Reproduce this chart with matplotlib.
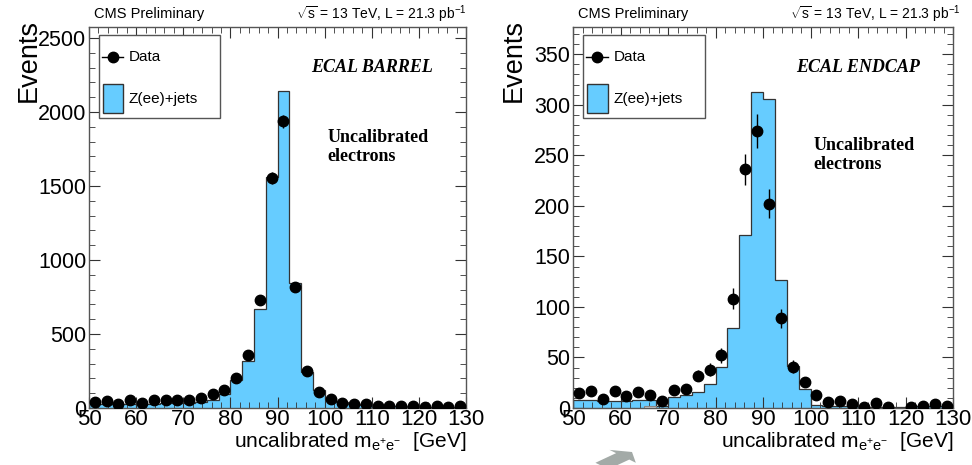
import matplotlib
matplotlib.use("Agg")
import matplotlib.pyplot as plt
import matplotlib.patches as mpatches
from matplotlib.lines import Line2D
from matplotlib.ticker import MultipleLocator
import numpy as np

plt.rcParams["font.family"] = ["Liberation Sans", "DejaVu Sans"]
plt.rcParams["mathtext.fontset"] = "custom"
plt.rcParams["mathtext.rm"] = "Liberation Sans"
plt.rcParams["mathtext.it"] = "Liberation Sans:italic"

# ---- data: 2.5 GeV bins from 50 to 130 ----
edges = np.arange(50, 130.01, 2.5)
centers = (edges[:-1] + edges[1:]) / 2

barrel_mc = [25, 27, 28, 28, 30, 30, 32, 33, 35, 38, 57, 95, 188, 316, 666, 1563,
             2144, 845, 240, 120, 62, 40, 28, 22, 17, 14, 12, 10, 9, 8, 7, 6]
barrel_data = [41, 47, 25, 52, 34, 56, 52, 56, 52, 70, 92, 124, 205, 359, 733, 1554,
               1939, 819, 250, 108, 63, 36, 25, 25, 11, 11, 11, 11, 7, 11, 7, 11]

endcap_mc = [8, 8, 7, 7, 7, 8, 8, 2, 11, 13, 16, 24, 41, 79, 171, 313,
             306, 127, 42, 19, 3, 2, 2, 1.5, 1, 1, 1, 0.5, 1.5, 2, 2, 2]
endcap_other = [0, 0, 0, 0, 0, 0, 2, 0, 0, 0, 0, 0, 0, 0, 0, 0,
                0, 0, 0, 0, 0, 0, 0, 0, 0, 0, 0, 0, 0, 0, 0, 0]
endcap_data = [15, 17, 9, 17, 12, 16, 12.5, 7, 17.5, 19, 32, 38, 52, 108, 236, 274,
               202, 89, 41, 26, 12.5, 5.6, 7, 3.6, 1, 5, 1, 0, 1, 2, 3.6, 2]

FILL = "#66CCFF"
W, H = 972, 465

fig = plt.figure(figsize=(W / 100, H / 100), dpi=100)


def panel(x0, x1, ymax, mc, data, other, major, minor, title, ylab_x):
    ax = fig.add_axes([x0 / W, (H - 408) / H, (x1 - x0) / W, 381 / H])
    ax.stairs(mc, edges, fill=True, facecolor=FILL, edgecolor="none", zorder=1)
    ax.stairs(mc, edges, color="#333333", lw=0.9, zorder=2)
    if other is not None:
        ax.stairs(other, edges, fill=True, facecolor="#cccccc", edgecolor="#888888", lw=0.8, zorder=2)
    d = np.array(data, dtype=float)
    m = d > 0
    ax.errorbar(centers[m], d[m], yerr=np.sqrt(d[m]), fmt="o", color="black",
                ms=7.5, elinewidth=1.0, capsize=0, zorder=4)
    ax.set_xlim(50, 130)
    ax.set_ylim(0, ymax)
    ax.xaxis.set_major_locator(MultipleLocator(10))
    ax.xaxis.set_minor_locator(MultipleLocator(2))
    ax.yaxis.set_major_locator(MultipleLocator(major))
    ax.yaxis.set_minor_locator(MultipleLocator(minor))
    ax.tick_params(which="both", direction="in", top=True, right=True,
                   color="#333333", pad=2)
    ax.tick_params(axis="y", labelsize=15.5)
    ax.tick_params(axis="x", labelsize=16, pad=1)
    ax.tick_params(which="major", length=8)
    ax.tick_params(which="minor", length=4.5)
    for s in ax.spines.values():
        s.set_color("#555555")
        s.set_linewidth(1.0)

    # legend box (ROOT style)
    ax.add_patch(mpatches.Rectangle((0.027, 0.76), 0.32, 0.22, transform=ax.transAxes,
                                    facecolor="white", edgecolor="#555555", lw=1.0, zorder=5))
    ax.add_line(Line2D([0.034, 0.091], [0.921, 0.921], transform=ax.transAxes,
                       color="black", lw=1.0, zorder=6))
    ax.plot([0.0625], [0.921], "o", color="black", ms=7.5, transform=ax.transAxes, zorder=7)
    ax.text(0.106, 0.921, "Data", transform=ax.transAxes, va="center", fontsize=11, zorder=7)
    ax.add_patch(mpatches.Rectangle((0.036, 0.773), 0.055, 0.077, transform=ax.transAxes,
                                    facecolor=FILL, edgecolor="#333333", lw=1.0, zorder=6))
    ax.text(0.106, 0.812, "Z(ee)+jets", transform=ax.transAxes, va="center", fontsize=11, zorder=7)

    ax.text(0.75, 0.895, title, transform=ax.transAxes, ha="center", va="center",
            family="Liberation Serif", fontweight="bold", style="italic", fontsize=13)
    ax.set_xlabel(r"uncalibrated m$_{\mathrm{e^{+}e^{-}}}$  [GeV]", fontsize=15,
                  loc="right", labelpad=0)
    ax.set_ylabel("Events", fontsize=19.5, loc="top", labelpad=0)
    ax.yaxis.set_label_coords(ylab_x, 1.02)
    return ax


axl = panel(89, 466, 2575, barrel_mc, barrel_data, None, 500, 100, "ECAL BARREL", -0.125)
axr = panel(573, 953, 377, endcap_mc, endcap_data, endcap_other, 50, 10, "ECAL ENDCAP", -0.121)

for ax, yy in [(axl, (0.709, 0.659)), (axr, (0.690, 0.638))]:
    ax.text(0.633, yy[0], "Uncalibrated", transform=ax.transAxes, va="center",
            family="Liberation Serif", fontweight="bold", fontsize=13)
    ax.text(0.633, yy[1], "electrons", transform=ax.transAxes, va="center",
            family="Liberation Serif", fontweight="bold", fontsize=13)

# header texts
for xl, xr in [(94, 467), (578, 961)]:
    fig.text(xl / W, 1 - 14 / H, "CMS Preliminary", fontsize=10.5, va="center")
    fig.text(xr / W, 1 - 14 / H, r"$\sqrt{\mathrm{s}}$ = 13 TeV, L = 21.3 pb$^{-1}$",
             fontsize=10, va="center", ha="right")

# grey cursor arrow at the bottom of the screenshot
fig.patches.append(mpatches.FancyArrow(602 / W, 1 - 466 / H, 30 / W, 14 / H, width=9 / H,
                                       head_width=18 / H, head_length=13 / W,
                                       length_includes_head=True, transform=fig.transFigure,
                                       facecolor="#a3aaa7", edgecolor="none"))

fig.savefig("out.png", dpi=100, facecolor="white")
